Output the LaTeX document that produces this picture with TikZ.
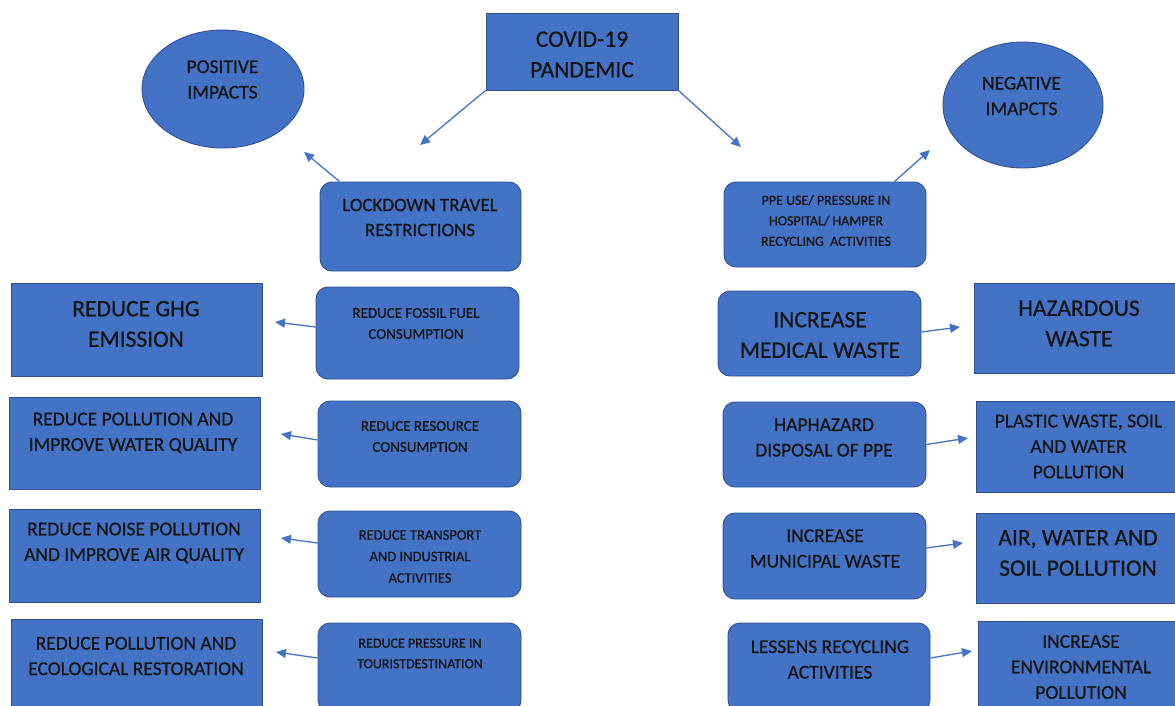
\documentclass[tikz,border=0pt]{standalone}
\usepackage{fontspec}
\setmainfont{Carlito}[FakeBold=0.6]
\usetikzlibrary{arrows.meta,shapes.geometric,calc}
\definecolor{boxblue}{HTML}{4472C4}
\definecolor{edgeblue}{HTML}{2F528F}
\definecolor{txtcol}{HTML}{151515}
\tikzset{
  sq/.style={draw=edgeblue,fill=boxblue,line width=0.9pt,rectangle,inner sep=0pt},
  rbox/.style={sq,rounded corners=12pt},
  ell/.style={draw=edgeblue,fill=boxblue,line width=0.9pt,ellipse,inner sep=0pt},
  txt/.style={text=txtcol,align=center,inner sep=0pt},
  big/.style={font=\fontsize{23.5}{30.5}\selectfont},
  med/.style={font=\fontsize{19.5}{25.5}\selectfont},
  sml/.style={font=\fontsize{15}{21}\selectfont},
  tiny/.style={font=\fontsize{14}{20.5}\selectfont},
  arr/.style={draw=boxblue,line width=1.3pt,-{Triangle[length=10pt,width=9pt]}}
}
\begin{document}
\begin{tikzpicture}[x=1pt,y=-1pt]
\path[use as bounding box] (0,0) rectangle (1175,706);
\clip (0,0) rectangle (1175,706);
\fill[white] (0,0) rectangle (1175,706);
% top
\node[sq,minimum width=192pt,minimum height=77pt] (covid) at (582,51.5) {};
\node[txt,big] (tcovid) at (582,54.5) {COVID-19\\PANDEMIC};
\node[ell,minimum width=162pt,minimum height=118pt] (pos) at (223,89) {};
\node[txt,med] (tpos) at (222.5,79.5) {POSITIVE\\IMPACTS};
\node[ell,minimum width=160pt,minimum height=126pt] (neg) at (1023,105) {};
\node[txt,med] (tneg) at (1021.5,96) {NEGATIVE\\IMAPCTS};
\node[rbox,minimum width=201pt,minimum height=89pt] (lock) at (420.5,226.5) {};
\node[txt,font=\fontsize{19}{25}\selectfont] (tlock) at (420,217.5) {LOCKDOWN TRAVEL\\RESTRICTIONS};
\node[rbox,minimum width=202pt,minimum height=85pt] (ppe) at (825,224.5) {};
\node[txt,tiny] (tppe) at (826,220.5) {PPE USE/ PRESSURE IN\\HOSPITAL/ HAMPER\\RECYCLING\ \ ACTIVITIES};
% left squares
\node[sq,minimum width=251pt,minimum height=93pt] (l1) at (136.5,329.5) {};
\node[txt,big] (tl1) at (136,324) {REDUCE GHG\\EMISSION};
\node[sq,minimum width=251pt,minimum height=92pt] (l2) at (134.5,443) {};
\node[txt,med] (tl2) at (133,433) {REDUCE POLLUTION AND\\IMPROVE WATER QUALITY};
\node[sq,minimum width=251pt,minimum height=93pt] (l3) at (134.5,555.5) {};
\node[txt,med] (tl3) at (134,543) {REDUCE NOISE POLLUTION\\AND IMPROVE AIR QUALITY};
\node[sq,minimum width=251pt,minimum height=91pt] (l4) at (136.5,664.5) {};
\node[txt,med] (tl4) at (136,656) {REDUCE POLLUTION AND\\ECOLOGICAL RESTORATION};
% middle left
\node[rbox,minimum width=203pt,minimum height=92pt] (m1) at (417.5,333) {};
\node[txt,sml] (tm1) at (416,323.5) {REDUCE FOSSIL\ FUEL\\CONSUMPTION};
\node[rbox,minimum width=203pt,minimum height=86pt] (m2) at (419.5,444) {};
\node[txt,sml] (tm2) at (420,436.5) {REDUCE RESOURCE\\CONSUMPTION};
\node[rbox,minimum width=203pt,minimum height=86pt] (m3) at (419.5,554) {};
\node[txt,font=\fontsize{14.5}{21.5}\selectfont] (tm3) at (420,556.5) {REDUCE TRANSPORT\\AND INDUSTRIAL\\ACTIVITIES};
\node[rbox,minimum width=203pt,minimum height=89pt] (m4) at (419.5,667.5) {};
\node[txt,tiny] (tm4) at (420,653.5) {REDUCE PRESSURE IN\\TOURISTDESTINATION};
% middle right
\node[rbox,minimum width=203pt,minimum height=85pt] (r1) at (819.5,333.5) {};
\node[txt,big] (tr1) at (820,335) {INCREASE\\MEDICAL WASTE};
\node[rbox,minimum width=203pt,minimum height=85pt] (r2) at (824.5,444.5) {};
\node[txt,med] (tr2) at (824,437.5) {HAPHAZARD\\DISPOSAL OF PPE};
\node[rbox,minimum width=203pt,minimum height=86pt] (r3) at (824.5,556) {};
\node[txt,med] (tr3) at (825,548.5) {INCREASE\\MUNICIPAL WASTE};
\node[rbox,minimum width=202pt,minimum height=89pt] (r4) at (829,667.5) {};
\node[txt,med] (tr4) at (830,659.5) {LESSENS RECYCLING\\ACTIVITIES};
% right squares
\node[sq,minimum width=221pt,minimum height=90pt] (s1) at (1084.5,328) {};
\node[txt,big] (ts1) at (1079,323.5) {HAZARDOUS\\WASTE};
\node[sq,minimum width=219pt,minimum height=91pt] (s2) at (1085.5,446.5) {};
\node[txt,med] (ts2) at (1078.5,446.5) {PLASTIC WASTE, SOIL\\AND WATER\\POLLUTION};
\node[sq,minimum width=219pt,minimum height=90pt] (s3) at (1085.5,558) {};
\node[txt,big] (ts3) at (1078,553) {AIR, WATER AND\\SOIL POLLUTION};
\node[sq,minimum width=217pt,minimum height=91pt] (s4) at (1086.5,666.5) {};
\node[txt,med] (ts4) at (1081,667) {INCREASE\\ENVIRONMENTAL\\POLLUTION};
% arrow heads (free ends)
\coordinate (h1) at (420,145);
\coordinate (h2) at (741,147);
\coordinate (h3) at (304,152);
\coordinate (h4) at (930,150);
\coordinate (hl1) at (275,322);
\coordinate (hl2) at (281,434);
\coordinate (hl3) at (281,538);
\coordinate (hl4) at (276,652);
\coordinate (hr1) at (960,327);
\coordinate (hr2) at (968,438);
\coordinate (hr3) at (963,543);
\coordinate (hr4) at (972,651);
% connectors
\draw[arr] (covid.south west) -- (h1);
\draw[arr] (covid.south east) -- (h2);
\draw[arr] ($(lock.north west)+(20,0)$) -- (h3);
\draw[arr] ($(ppe.north east)+(-32,0)$) -- (h4);
\draw[arr] ($(m1.west)+(0,-6)$) -- (hl1);
\draw[arr] ($(m2.west)+(0,-4)$) -- (hl2);
\draw[arr] ($(m3.west)+(0,-11)$) -- (hl3);
\draw[arr] ($(m4.west)+(0,-9.5)$) -- (hl4);
\draw[arr] ($(r1.east)+(0,-1.5)$) -- (hr1);
\draw[arr] (r2.east) -- (hr2);
\draw[arr] ($(r3.east)+(0,-8)$) -- (hr3);
\draw[arr] ($(r4.east)+(0,-9.5)$) -- (hr4);
\end{tikzpicture}
\end{document}
